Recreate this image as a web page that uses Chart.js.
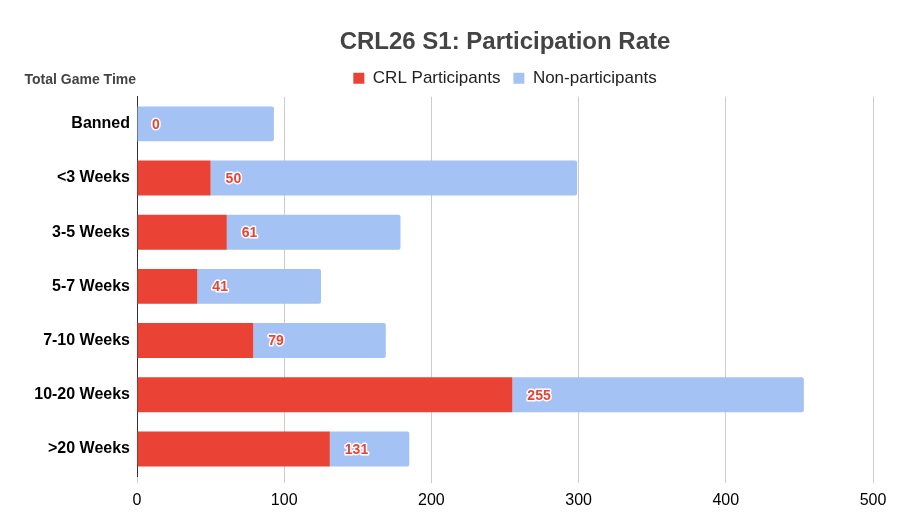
<!DOCTYPE html>
<html lang="en">
<head>
    <meta charset="UTF-8">
    <title>CRL26 S1: Participation Rate</title>
    <script src="https://cdn.jsdelivr.net/npm/chart.js"></script>
    <style>
        body {
            margin: 0;
            background: #ffffff;
        }

        #chart-box {
            width: 905px;
            height: 526px;
        }
    </style>
</head>
<body>
    <div id="chart-box">
        <canvas id="rate-chart" width="905" height="526"></canvas>
    </div>

    <script>
        const categories = ['Banned', '<3 Weeks', '3-5 Weeks', '5-7 Weeks', '7-10 Weeks', '10-20 Weeks', '>20 Weeks'];
        const crlParticipants = [0, 50, 61, 41, 79, 255, 131];
        const nonParticipants = [93, 249, 118, 84, 90, 198, 54];
        const xTicks = [0, 100, 200, 300, 400, 500];

        const RED = '#ea4335';
        const BLUE = '#a4c2f4';
        const FONT = '"Liberation Sans", Arial, sans-serif';

        // Axis title drawn above the category labels, like the sheet does
        const axisTitlePlugin = {
            id: 'axisTitle',
            afterDraw(chart) {
                const ctx = chart.ctx;
                const area = chart.chartArea;
                ctx.save();
                ctx.font = 'bold 14px ' + FONT;
                ctx.fillStyle = '#444444';
                ctx.textAlign = 'right';
                ctx.textBaseline = 'middle';
                ctx.fillText('Total Game Time', area.left - 1, area.top - 17);
                ctx.restore();
            }
        };

        // Value labels for the CRL series, just past the end of the red bar
        const valueLabelPlugin = {
            id: 'valueLabels',
            afterDatasetsDraw(chart) {
                const ctx = chart.ctx;
                const meta = chart.getDatasetMeta(0);
                ctx.save();
                ctx.font = 'bold 14px ' + FONT;
                ctx.textAlign = 'left';
                ctx.textBaseline = 'middle';
                ctx.lineJoin = 'round';
                meta.data.forEach((bar, i) => {
                    const text = String(crlParticipants[i]);
                    const x = bar.x + 15;
                    const y = bar.y + 1;
                    ctx.strokeStyle = '#ffffff';
                    ctx.lineWidth = 3;
                    ctx.strokeText(text, x, y);
                    ctx.fillStyle = RED;
                    ctx.fillText(text, x, y);
                });
                ctx.restore();
            }
        };

        const ctx = document.getElementById('rate-chart').getContext('2d');
        const chart = new Chart(ctx, {
            type: 'bar',
            data: {
                labels: categories,
                datasets: [{
                    label: 'CRL Participants',
                    data: crlParticipants,
                    backgroundColor: RED,
                    barPercentage: 0.645,
                    categoryPercentage: 1.0
                }, {
                    label: 'Non-participants',
                    data: nonParticipants,
                    backgroundColor: BLUE,
                    borderRadius: { topRight: 2, bottomRight: 2 },
                    borderSkipped: false,
                    barPercentage: 0.645,
                    categoryPercentage: 1.0
                }]
            },
            options: {
                indexAxis: 'y',
                responsive: false,
                animation: false,
                layout: {
                    padding: { top: 0, right: 32, bottom: 0, left: 0 }
                },
                scales: {
                    x: {
                        stacked: true,
                        min: 0,
                        max: 500,
                        afterBuildTicks(scale) {
                            scale.ticks = xTicks.map(v => ({ value: v }));
                        },
                        afterFit(scale) {
                            scale.height = 50;
                        },
                        grid: {
                            color: '#cccccc',
                            tickLength: 7,
                            tickColor: '#cccccc'
                        },
                        border: { display: false },
                        ticks: {
                            color: '#000000',
                            font: { family: FONT, size: 16 },
                            padding: 8
                        }
                    },
                    y: {
                        stacked: true,
                        afterFit(scale) {
                            scale.width = 137;
                        },
                        grid: { display: false, drawTicks: false },
                        border: { display: true, color: '#333333', width: 1 },
                        ticks: {
                            color: '#000000',
                            font: { family: FONT, size: 16, weight: 'bold' },
                            padding: 7
                        }
                    }
                },
                plugins: {
                    title: {
                        display: true,
                        text: 'CRL26 S1: Participation Rate',
                        color: '#444444',
                        fullSize: false,
                        font: { family: FONT, size: 24, weight: 'bold' },
                        padding: { top: 28, bottom: 0 }
                    },
                    legend: {
                        display: true,
                        fullSize: false,
                        labels: {
                            color: '#222222',
                            font: { family: FONT, size: 17 },
                            boxWidth: 11,
                            boxHeight: 11,
                            padding: 13
                        }
                    },
                    tooltip: { enabled: false }
                }
            },
            plugins: [axisTitlePlugin, valueLabelPlugin]
        });
    </script>
</body>
</html>
